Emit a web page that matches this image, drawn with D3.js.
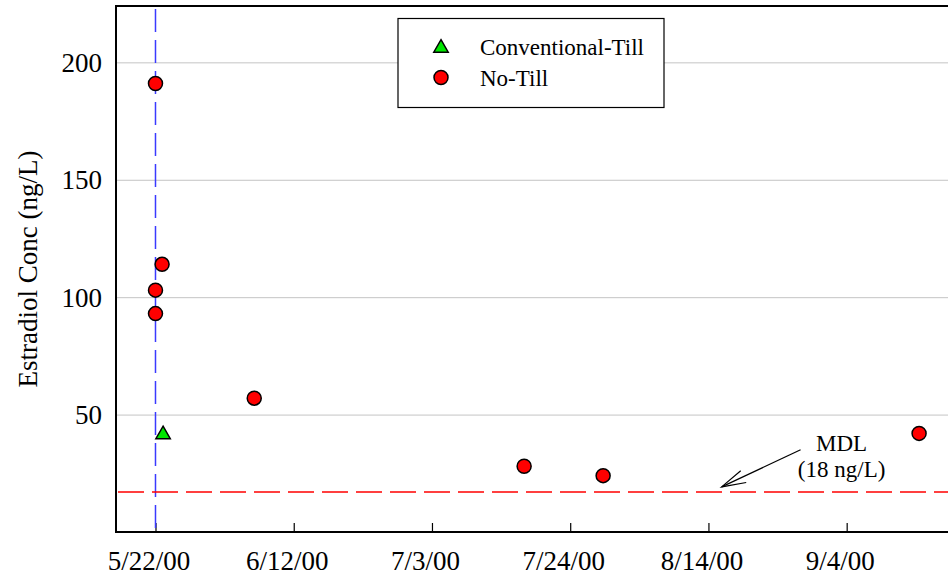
<!DOCTYPE html>
<html>
<head>
<meta charset="utf-8">
<script src="https://cdn.jsdelivr.net/npm/d3@7"></script>
<style>
  html, body { margin: 0; padding: 0; background: #fff; }
  svg { display: block; font-family: "Liberation Serif", "Times New Roman", serif; }
</style>
</head>
<body>
<svg id="chart"></svg>
<script>
// data
const xTickLabels = ['5/22/00', '6/12/00', '7/3/00', '7/24/00', '8/14/00', '9/4/00']
const yTickValues = [50, 100, 150, 200]
const noTillDates = ['5/22/00', '5/23/00', '5/22/00', '5/22/00', '6/6/00', '7/17/00', '7/29/00', '9/15/00']
const noTillValues = [191, 114, 103, 93, 57, 28, 24, 42]
const convTillDates = ['5/23/00']
const convTillValues = [41.5]
const applicationDate = '5/22/00'
const mdlValue = 17
const mdlLabel = ['MDL', '(18 ng/L)']
const arrowFrom = { date: '8/28/00', value: 35 }
const arrowTo = { date: '8/16/00', value: 19.2 }

const width = 948
const height = 579
const plotLeft = 116
const plotTop = 6
const plotBottom = 532

const parse = d3.timeParse('%m/%d/%y')

const svg = d3.select('#chart')
  .attr('width', width)
  .attr('height', height)

const x = d3.scaleTime()
  .domain([parse('5/16/00'), parse('9/20/00')])
  .range([plotLeft, 952])

const y = d3.scaleLinear()
  .domain([0, 224])
  .range([plotBottom, plotTop])

// gridlines + y labels
const yAxis = svg.append('g')
  .attr('transform', `translate(${plotLeft},0)`)
  .call(d3.axisLeft(y)
    .tickValues(yTickValues)
    .tickSize(-(width - plotLeft))
    .tickPadding(14))
yAxis.select('.domain').remove()
yAxis.attr('font-family', null)
yAxis.selectAll('.tick line').attr('stroke', '#c4c4c4').attr('stroke-width', 1)
yAxis.selectAll('.tick text')
  .attr('font-size', 27)
  .attr('fill', '#000')
  .attr('dy', '0.34em')

// x axis
const xAxis = svg.append('g')
  .attr('transform', `translate(0,${plotBottom})`)
  .call(d3.axisBottom(x)
    .tickValues(xTickLabels.map(parse))
    .tickFormat((d, i) => xTickLabels[i])
    .tickSizeInner(-9)
    .tickSizeOuter(0)
    .tickPadding(19))
xAxis.select('.domain').remove()
xAxis.attr('font-family', null)
xAxis.selectAll('.tick line').attr('stroke', '#000').attr('stroke-width', 1.2)
xAxis.selectAll('.tick text')
  .attr('font-size', 27)
  .attr('fill', '#000')
  .attr('dx', -7)

// frame
svg.append('path')
  .attr('d', `M${width + 5},${plotTop}H${plotLeft}V${plotBottom}H${width + 5}`)
  .attr('fill', 'none')
  .attr('stroke', '#000')
  .attr('stroke-width', 2)

// application date line
svg.append('line')
  .attr('x1', x(parse(applicationDate)))
  .attr('x2', x(parse(applicationDate)))
  .attr('y1', plotTop + 3)
  .attr('y2', plotBottom)
  .attr('stroke', '#3a3aff')
  .attr('stroke-width', 1.5)
  .attr('stroke-dasharray', '23,8')

// MDL line
svg.append('line')
  .attr('x1', plotLeft)
  .attr('x2', width)
  .attr('y1', y(mdlValue))
  .attr('y2', y(mdlValue))
  .attr('stroke', '#ff0000')
  .attr('stroke-width', 1.5)
  .attr('stroke-dasharray', '26,8')
  .attr('stroke-dashoffset', -2)

// arrow + label
const ax1 = x(parse(arrowFrom.date)), ay1 = y(arrowFrom.value)
const ax2 = x(parse(arrowTo.date)), ay2 = y(arrowTo.value)
const ang = Math.atan2(ay1 - ay2, ax1 - ax2)
const headLen = 25
const headAng = 15 * Math.PI / 180
const arrow = svg.append('g')
  .attr('stroke', '#000')
  .attr('stroke-width', 1.2)
  .attr('fill', 'none')
arrow.append('line')
  .attr('x1', ax1).attr('y1', ay1)
  .attr('x2', ax2).attr('y2', ay2)
arrow.append('path')
  .attr('d', `M${ax2 + headLen * Math.cos(ang - headAng)},${ay2 + headLen * Math.sin(ang - headAng)}L${ax2},${ay2}L${ax2 + headLen * Math.cos(ang + headAng)},${ay2 + headLen * Math.sin(ang + headAng)}`)

svg.append('g')
  .selectAll('text')
  .data(mdlLabel)
  .join('text')
    .attr('x', ax1 + 41)
    .attr('y', (_, i) => ay1 + 1 + i * 26)
    .attr('text-anchor', 'middle')
    .attr('font-size', 23)
    .text(d => d)

// points
const triangle = d3.symbol(d3.symbolTriangle, 90)

svg.append('g')
  .selectAll('circle')
  .data(noTillDates.map((d, i) => ({ date: parse(d), value: noTillValues[i] })))
  .join('circle')
    .attr('cx', d => x(d.date))
    .attr('cy', d => y(d.value))
    .attr('r', 7)
    .attr('fill', '#ff0000')
    .attr('stroke', '#000')
    .attr('stroke-width', 1.5)

svg.append('g')
  .selectAll('path')
  .data(convTillDates.map((d, i) => ({ date: parse(d), value: convTillValues[i] })))
  .join('path')
    .attr('d', triangle)
    .attr('transform', d => `translate(${x(d.date) + 1},${y(d.value)})`)
    .attr('fill', '#00e600')
    .attr('stroke', '#000')
    .attr('stroke-width', 1.5)

// y axis title
svg.append('text')
  .attr('transform', `translate(37,${(plotTop + plotBottom) / 2}) rotate(-90)`)
  .attr('text-anchor', 'middle')
  .attr('font-size', 27)
  .text('Estradiol Conc (ng/L)')

// legend
const legend = svg.append('g')
legend.append('rect')
  .attr('x', 398)
  .attr('y', 18.5)
  .attr('width', 266)
  .attr('height', 89)
  .attr('fill', '#fff')
  .attr('stroke', '#000')
  .attr('stroke-width', 1.2)

const legendItems = [
  { label: 'Conventional-Till', kind: 'tri', fill: '#00e600' },
  { label: 'No-Till', kind: 'circle', fill: '#ff0000' }
]
const item = legend.selectAll('g.item')
  .data(legendItems)
  .join('g')
    .attr('class', 'item')
    .attr('transform', (_, i) => `translate(441,${47 + i * 30.5})`)

item.filter(d => d.kind === 'tri').append('path')
  .attr('d', d3.symbol(d3.symbolTriangle, 90))
  .attr('transform', 'translate(0,1)')
  .attr('fill', d => d.fill)
  .attr('stroke', '#000')
  .attr('stroke-width', 1.5)
item.filter(d => d.kind === 'circle').append('circle')
  .attr('r', 7)
  .attr('fill', d => d.fill)
  .attr('stroke', '#000')
  .attr('stroke-width', 1.5)
item.append('text')
  .attr('x', 39)
  .attr('y', 8)
  .attr('font-size', 23)
  .text(d => d.label)
</script>
</body>
</html>
